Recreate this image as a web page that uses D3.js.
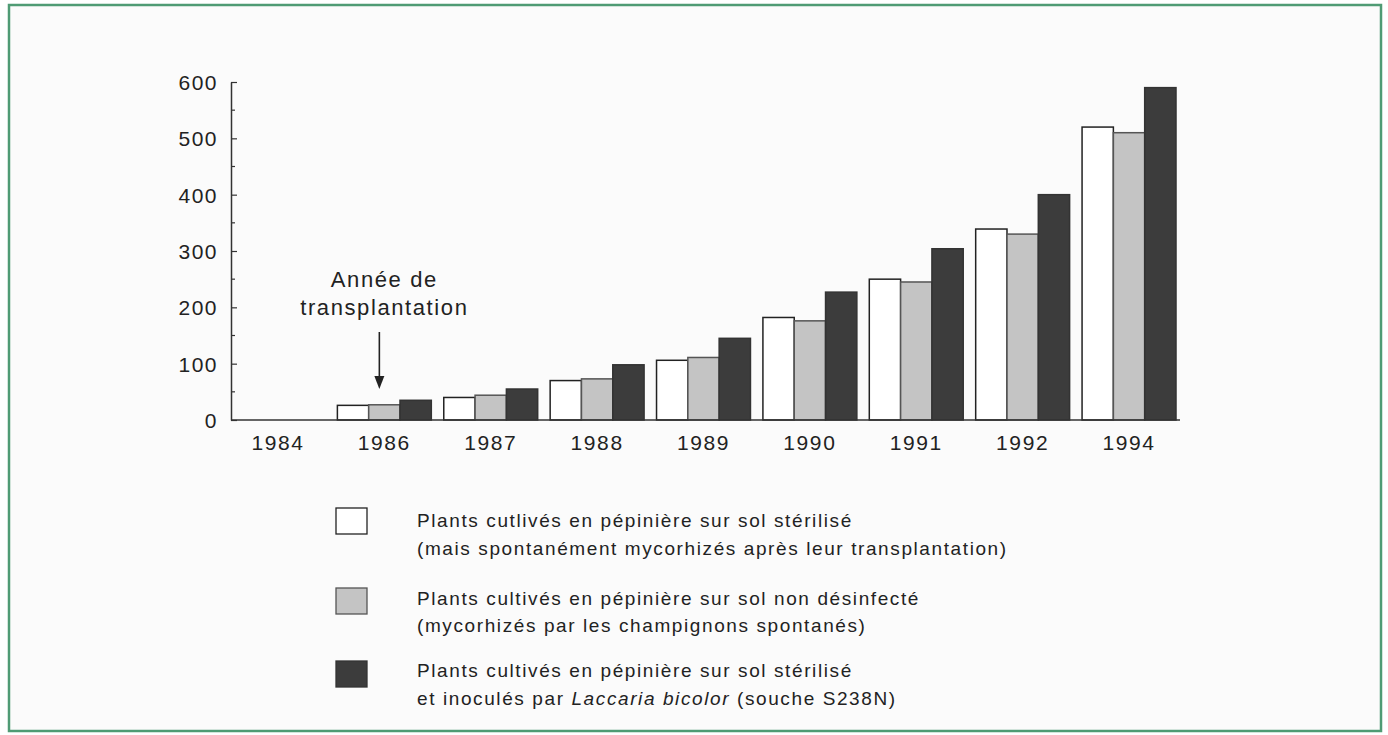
<!DOCTYPE html>
<html>
<head>
<meta charset="utf-8">
<script src="https://cdn.jsdelivr.net/npm/d3@7"></script>
<style>
  body { margin: 0; background: #fff; }
  svg text { font-family: "Liberation Sans", Arial, sans-serif; fill: #222; }
</style>
</head>
<body>
<svg id="chart" width="1388" height="735"></svg>
<script>
// years on the x axis (1993 is missing in the original)
const years = ["1984", "1986", "1987", "1988", "1989", "1990", "1991", "1992", "1994"];

// heights
const sterilise   = [0, 26, 40, 70, 106, 182, 250, 339, 520];
const nonDesinf   = [0, 27, 44, 73, 111, 176, 245, 330, 510];
const inocule     = [0, 35, 55, 98, 145, 227, 304, 400, 590];

const yTicks = [0, 100, 200, 300, 400, 500, 600];

const seriesNames = ["sterilise", "nonDesinf", "inocule"];
const seriesColors = ["#ffffff", "#c4c4c4", "#3c3c3c"];
const seriesStrokes = ["#222", "#555", "#333"];

// legend lines, one list per series
const legendLines = [
  [["Plants cutlivés en pépinière sur sol stérilisé"],
   ["(mais spontanément mycorhizés après leur transplantation)"]],
  [["Plants cultivés en pépinière sur sol non désinfecté"],
   ["(mycorhizés par les champignons spontanés)"]],
  [["Plants cultivés en pépinière sur sol stérilisé"],
   ["et inoculés par ", ["Laccaria bicolor"], " (souche S238N)"]]
];

const data = years.map((y, i) => ({
  year: y,
  values: [sterilise[i], nonDesinf[i], inocule[i]]
}));

const dims = { left: 231, right: 1176, top: 82, bottom: 420 };

const svg = d3.select("#chart");

// green frame
svg.append("rect")
  .attr("x", 9).attr("y", 5)
  .attr("width", 1372).attr("height", 726)
  .attr("fill", "#fbfbfb")
  .attr("stroke", "#4f9b74")
  .attr("stroke-width", 2.5);

const x0 = d3.scaleBand()
  .domain(years)
  .range([dims.left, dims.right])
  .paddingInner(0.117)
  .paddingOuter(0);

const x1 = d3.scaleBand()
  .domain(seriesNames)
  .range([0, x0.bandwidth()]);

const y = d3.scaleLinear()
  .domain([0, 600])
  .range([dims.bottom, dims.top]);

// bars
const groups = svg.selectAll("g.year")
  .data(data)
  .enter().append("g")
  .attr("class", "year")
  .attr("transform", d => `translate(${x0(d.year)},0)`);

groups.selectAll("rect")
  .data(d => d.values.map((v, k) => ({ key: seriesNames[k], k: k, v: v })).filter(e => e.v > 0))
  .enter().append("rect")
  .attr("x", e => x1(e.key))
  .attr("y", e => y(e.v))
  .attr("width", x1.bandwidth())
  .attr("height", e => y(0) - y(e.v))
  .attr("fill", e => seriesColors[e.k])
  .attr("stroke", e => seriesStrokes[e.k])
  .attr("stroke-width", 1.5);

// y axis: labels left, ticks pointing inside
const yAxis = svg.append("g")
  .attr("transform", `translate(${dims.left},0)`)
  .call(d3.axisLeft(y).tickValues(yTicks).tickSizeInner(-6).tickSizeOuter(0).tickPadding(13));
yAxis.select(".domain").attr("stroke", "#333").attr("stroke-width", 1.5);
yAxis.selectAll(".tick line").attr("stroke", "#333").attr("stroke-width", 1.2);
yAxis.selectAll("text")
  .style("font-size", "21px")
  .style("letter-spacing", "1.5px")
  .attr("dy", "0.36em");

// minor ticks at the 50s
svg.append("g").selectAll("line")
  .data(d3.range(50, 600, 100))
  .enter().append("line")
  .attr("x1", dims.left).attr("x2", dims.left + 4)
  .attr("y1", d => y(d)).attr("y2", d => y(d))
  .attr("stroke", "#333").attr("stroke-width", 1.2);

// x axis: plain line with year labels under each group
svg.append("line")
  .attr("x1", dims.left).attr("x2", dims.right + 4)
  .attr("y1", y(0)).attr("y2", y(0))
  .attr("stroke", "#333").attr("stroke-width", 1.5);

svg.append("g").selectAll("text")
  .data(years)
  .enter().append("text")
  .attr("x", d => x0(d) + x0.bandwidth() / 2)
  .attr("y", 450)
  .attr("text-anchor", "middle")
  .style("font-size", "21px")
  .style("letter-spacing", "1.6px")
  .text(d => d);

// annotation + arrow
const ax = x0("1986") + x0.bandwidth() / 2 - 5;
svg.append("text")
  .attr("x", ax + 5).attr("y", 287)
  .attr("text-anchor", "middle")
  .style("font-size", "22px").style("letter-spacing", "1.6px")
  .text("Année de");
svg.append("text")
  .attr("x", ax + 5).attr("y", 315)
  .attr("text-anchor", "middle")
  .style("font-size", "22px").style("letter-spacing", "1.6px")
  .text("transplantation");
svg.append("line")
  .attr("x1", ax).attr("x2", ax)
  .attr("y1", 332).attr("y2", 378)
  .attr("stroke", "#222").attr("stroke-width", 1.6);
svg.append("path")
  .attr("d", `M${ax - 5},${376} L${ax + 5},${376} L${ax},${389} Z`)
  .attr("fill", "#222");

// legend
const legendTop = [508, 588, 661];
const legendBase = [[527, 555], [605, 632], [677, 705]];

const leg = svg.append("g");
legendLines.forEach((lines, k) => {
  leg.append("rect")
    .attr("x", 336).attr("y", legendTop[k])
    .attr("width", 31).attr("height", 26)
    .attr("fill", seriesColors[k])
    .attr("stroke", seriesStrokes[k])
    .attr("stroke-width", 1.3);
  lines.forEach((parts, j) => {
    const t = leg.append("text")
      .attr("x", 417).attr("y", legendBase[k][j])
      .style("font-size", "19px")
      .style("letter-spacing", "1.6px");
    parts.forEach(p => {
      if (Array.isArray(p)) t.append("tspan").style("font-style", "italic").text(p[0]);
      else t.append("tspan").text(p);
    });
  });
});
</script>
</body>
</html>
